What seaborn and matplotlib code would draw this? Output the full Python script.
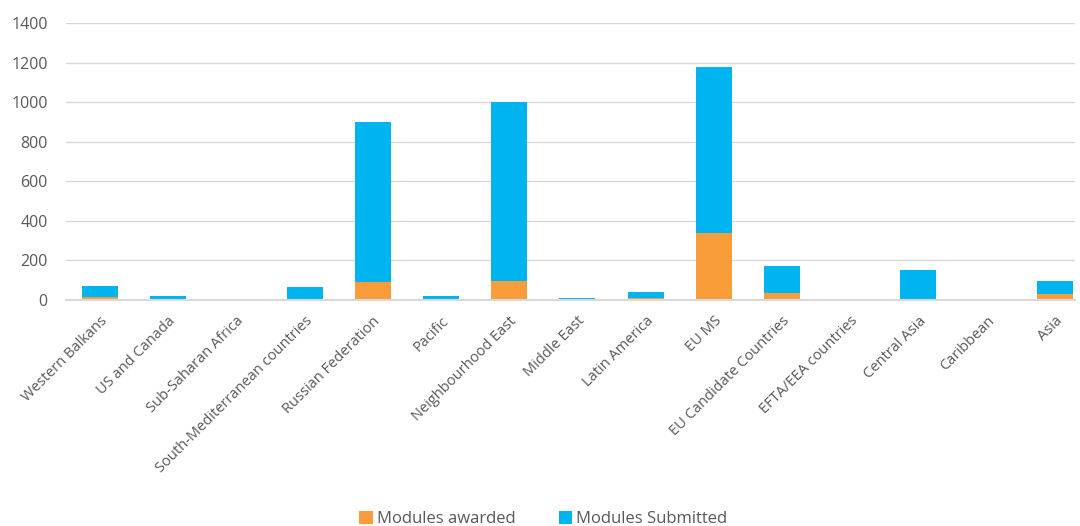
import matplotlib
matplotlib.use("Agg")
import matplotlib.pyplot as plt
import seaborn as sns
import pandas as pd
from matplotlib.patches import Patch

regions = [
    "Western Balkans", "US and Canada", "Sub-Saharan Africa",
    "South-Mediterranean countries", "Russian Federation", "Pacific",
    "Neighbourhood East", "Middle East", "Latin America", "EU MS",
    "EU Candidate Countries", "EFTA/EEA countries", "Central Asia",
    "Caribbean", "Asia",
]
modules_awarded = [13, 5, 0, 4, 88, 5, 97, 1, 10, 340, 36, 1, 3, 1, 30]
modules_submitted = [59, 13, 3, 62, 814, 16, 905, 7, 28, 838, 137, 2, 147, 0, 64]
y_ticks = [0, 200, 400, 600, 800, 1000, 1200, 1400]

orange = "#F99D3A"
blue = "#00B4EF"
text_grey = "#595959"
grid_grey = "#D9D9D9"

df = pd.DataFrame({
    "region": regions,
    "awarded": modules_awarded,
    "submitted": modules_submitted,
})
df["stack_top"] = df["awarded"] + df["submitted"]

sns.set_theme(style="white")
plt.rcParams["font.family"] = ["Open Sans", "DejaVu Sans"]

fig = plt.figure(figsize=(10.8, 5.26), dpi=100)
ax = fig.add_axes([0.061, 0.430, 0.934, 0.526])

# Submitted stacked above awarded: draw the full stack, then the awarded part over it
sns.barplot(data=df, x="region", y="stack_top", color=blue, saturation=1,
            width=0.53, ax=ax, linewidth=0)
sns.barplot(data=df, x="region", y="awarded", color=orange, saturation=1,
            width=0.53, ax=ax, linewidth=0)

ax.set_ylim(0, 1400)
ax.set_yticks(y_ticks)
ax.set_yticklabels([str(t) for t in y_ticks], fontsize=11.5, color=text_grey)
ax.set_xlim(-0.5, len(regions) - 0.71)
ax.set_xlabel("")
ax.set_ylabel("")
ax.grid(axis="y", color=grid_grey, linewidth=1)
ax.set_axisbelow(True)
for side in ["top", "right", "left"]:
    ax.spines[side].set_visible(False)
ax.spines["bottom"].set_color(grid_grey)
ax.spines["bottom"].set_linewidth(1.5)
ax.tick_params(axis="y", length=0, pad=13)

ax.set_xticks(range(len(regions)))
ax.set_xticklabels(regions, rotation=45, ha="right", rotation_mode="anchor",
                   fontsize=10.5, color=text_grey)
ax.tick_params(axis="x", length=0, pad=10)

handles = [Patch(facecolor=orange, edgecolor="none", label="Modules awarded"),
           Patch(facecolor=blue, edgecolor="none", label="Modules Submitted")]
fig.legend(handles=handles, loc="center", bbox_to_anchor=(0.503, 0.013), ncol=2,
           frameon=False, fontsize=12, handlelength=0.8, handleheight=0.8,
           handletextpad=0.25, columnspacing=2.6, labelcolor=text_grey)

fig.savefig("out.png", dpi=100)
